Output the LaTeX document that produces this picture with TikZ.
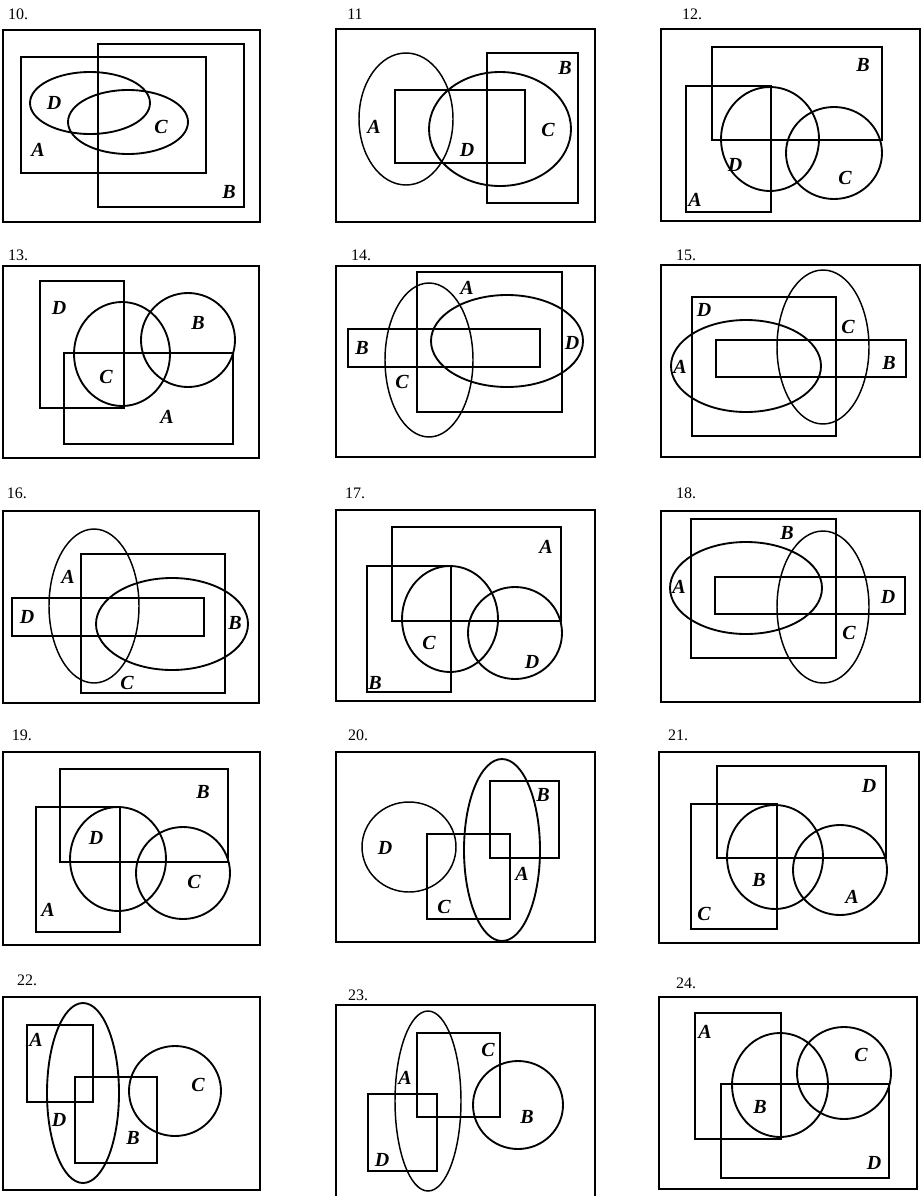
\documentclass[tikz,border=0pt]{standalone}
\usepackage{fontspec}
\setmainfont{Liberation Serif}
\begin{document}
\begin{tikzpicture}[x=0.75pt,y=-0.75pt,
  outer/.style={line width=1.1pt},
  rectst/.style={line width=0.9pt},
  ellst/.style={line width=1.4pt},
  lab/.style={font=\fontsize{15}{15}\selectfont\bfseries\itshape, inner sep=0pt},
  num/.style={font=\fontsize{12}{12}\selectfont, inner sep=0pt}]
\useasboundingbox[fill=white] (0,0) rectangle (923,1196);

% ---------- 10 ----------
\node[num] (n10) at (18,14) {10.};
\draw[outer] (3,30) rectangle (260,222);
\draw[rectst] (21,57) rectangle (206,173);
\draw[rectst] (98,44) rectangle (244,207);
\draw[ellst] (90,103) ellipse [x radius=60, y radius=31];
\draw[ellst] (128,122) ellipse [x radius=60, y radius=32];
\node[lab] (d10) at (54,103) {D};
\node[lab] (c10) at (161,127) {C};
\node[lab] (a10) at (38,150) {A};
\node[lab] (b10) at (229,192) {B};

% ---------- 11 ----------
\node[num] (n11) at (355,14) {11};
\draw[outer] (336,29) rectangle (595,222);
\draw[rectst] (395,90) rectangle (525,163);
\draw[rectst] (487,53) rectangle (578,203);
\draw[ellst, line width=1.1pt] (406,119) ellipse [x radius=47, y radius=66];
\draw[ellst] (500,129) ellipse [x radius=71, y radius=57];
\node[lab] (b11) at (565,68) {B};
\node[lab] (a11) at (374,127) {A};
\node[lab] (c11) at (548,130) {C};
\node[lab] (d11) at (467,150) {D};

% ---------- 12 ----------
\node[num] (n12) at (692,14) {12.};
\draw[outer] (661,29) rectangle (920,221);
\draw[outer] (712,47) rectangle (882,140);
\draw[rectst] (686,86) rectangle (771,212);
\draw[ellst] (770,139) ellipse [x radius=49, y radius=52];
\draw[ellst] (834,153) ellipse [x radius=48, y radius=46];
\node[lab] (b12) at (863,65) {B};
\node[lab] (d12) at (735,165) {D};
\node[lab] (c12) at (845,178) {C};
\node[lab] (a12) at (695,200) {A};

% ---------- 13 ----------
\node[num] (n13) at (18,255) {13.};
\draw[outer] (3,266) rectangle (259,458);
\draw[rectst] (40,281) rectangle (124,408);
\draw[outer] (64,353) rectangle (233,444);
\draw[ellst] (122,354) ellipse [x radius=48, y radius=52];
\draw[ellst] (188,340) ellipse [x radius=47, y radius=47];
\node[lab] (d13) at (59,308) {D};
\node[lab] (b13) at (198,323) {B};
\node[lab] (c13) at (106,377) {C};
\node[lab] (a13) at (167,417) {A};

% ---------- 14 ----------
\node[num] (n14) at (361,255) {14.};
\draw[outer] (336,266) rectangle (595,457);
\draw[outer] (417,272) rectangle (562,412);
\draw[outer] (348,329) rectangle (540,367);
\draw[ellst, line width=1.1pt] (429,360) ellipse [x radius=44, y radius=77];
\draw[ellst] (507,341) ellipse [x radius=76, y radius=46];
\node[lab] (a14) at (467,288) {A};
\node[lab] (d14) at (572,343) {D};
\node[lab] (b14) at (362,348) {B};
\node[lab] (c14) at (402,382) {C};

% ---------- 15 ----------
\node[num] (n15) at (686,255) {15.};
\draw[outer] (661,265) rectangle (920,457);
\draw[outer] (692,297) rectangle (836,436);
\draw[rectst] (716,340) rectangle (906,377);
\draw[ellst] (746,366) ellipse [x radius=75, y radius=46];
\draw[ellst, line width=1.1pt] (823,347) ellipse [x radius=46, y radius=77];
\node[lab] (d15) at (704,310) {D};
\node[lab] (c15) at (848,327) {C};
\node[lab] (a15) at (680,367) {A};
\node[lab] (b15) at (889,363) {B};

% ---------- 16 ----------
\node[num] (n16) at (17,493) {16.};
\draw[outer] (3,511) rectangle (259,703);
\draw[outer] (81,554) rectangle (225,693);
\draw[outer] (12,598) rectangle (204,636);
\draw[ellst, line width=1.1pt] (94,606) ellipse [x radius=45, y radius=77];
\draw[ellst] (172,624) ellipse [x radius=76, y radius=46];
\node[lab] (a16) at (68,577) {A};
\node[lab] (d16) at (27,617) {D};
\node[lab] (b16) at (235,623) {B};
\node[lab] (c16) at (127,683) {C};

% ---------- 17 ----------
\node[num] (n17) at (355,493) {17.};
\draw[outer] (336,510) rectangle (595,701);
\draw[outer] (392,527) rectangle (561,621);
\draw[rectst] (367,566) rectangle (451,692);
\draw[ellst] (450,619) ellipse [x radius=48, y radius=53];
\draw[ellst] (515,633) ellipse [x radius=47, y radius=46];
\node[lab] (a17) at (546,547) {A};
\node[lab] (c17) at (429,643) {C};
\node[lab] (d17) at (532,662) {D};
\node[lab] (b17) at (375,683) {B};

% ---------- 18 ----------
\node[num] (n18) at (686,493) {18.};
\draw[outer] (661,511) rectangle (920,702);
\draw[outer] (691,519) rectangle (836,658);
\draw[outer] (715,577) rectangle (905,614);
\draw[ellst] (746,588) ellipse [x radius=76, y radius=46];
\draw[ellst, line width=1.1pt] (823,607) ellipse [x radius=46, y radius=76];
\node[lab] (b18) at (787,533) {B};
\node[lab] (a18) at (679,587) {A};
\node[lab] (d18) at (888,597) {D};
\node[lab] (c18) at (849,633) {C};

% ---------- 19 ----------
\node[num] (n19) at (22,735) {19.};
\draw[outer] (3,752) rectangle (260,945);
\draw[rectst] (60,769) rectangle (228,862);
\draw[rectst] (36,807) rectangle (120,932);
\draw[ellst] (118,859) ellipse [x radius=48, y radius=52];
\draw[ellst] (183,873) ellipse [x radius=47, y radius=46];
\node[lab] (b19) at (203,792) {B};
\node[lab] (d19) at (96,838) {D};
\node[lab] (c19) at (194,882) {C};
\node[lab] (a19) at (48,910) {A};

% ---------- 20 ----------
\node[num] (n20) at (358,735) {20.};
\draw[outer] (336,752) rectangle (595,942);
\draw[ellst, line width=1.1pt] (409,847) ellipse [x radius=47, y radius=45];
\draw[outer] (427,834) rectangle (510,919);
\draw[outer] (490,781) rectangle (559,858);
\draw[ellst] (502,850) ellipse [x radius=38, y radius=91];
\node[lab] (b20) at (543,795) {B};
\node[lab] (d20) at (385,848) {D};
\node[lab] (a20) at (522,874) {A};
\node[lab] (c20) at (444,907) {C};

% ---------- 21 ----------
\node[num] (n21) at (678,735) {21.};
\draw[outer] (659,752) rectangle (919,943);
\draw[rectst] (717,766) rectangle (886,858);
\draw[rectst] (691,804) rectangle (777,929);
\draw[ellst] (775,857) ellipse [x radius=48, y radius=52];
\draw[ellst] (840,870) ellipse [x radius=47, y radius=45];
\node[lab] (d21) at (869,786) {D};
\node[lab] (b21) at (759,880) {B};
\node[lab] (a21) at (852,897) {A};
\node[lab] (c21) at (704,914) {C};

% ---------- 22 ----------
\node[num] (n22) at (27,980) {22.};
\draw[outer] (3,997) rectangle (260,1190);
\draw[outer] (27,1025) rectangle (93,1102);
\draw[outer] (75,1077) rectangle (157,1163);
\draw[ellst] (83,1093) ellipse [x radius=36, y radius=90];
\draw[ellst] (175,1091) ellipse [x radius=46, y radius=45];
\node[lab] (a22) at (36,1040) {A};
\node[lab] (c22) at (198,1085) {C};
\node[lab] (d22) at (59,1120) {D};
\node[lab] (b22) at (133,1138) {B};

% ---------- 23 ----------
\node[num] (n23) at (358,995) {23.};
\draw[outer] (336,1196) -- (336,1005) -- (595,1005) -- (595,1196);
\draw[ellst, line width=1.1pt] (428,1101) ellipse [x radius=33, y radius=90];
\draw[outer] (417,1033) rectangle (500,1117);
\draw[outer] (368,1094) rectangle (437,1171);
\draw[ellst] (518,1105) ellipse [x radius=45, y radius=44];
\node[lab] (c23) at (488,1050) {C};
\node[lab] (a23) at (405,1078) {A};
\node[lab] (b23) at (527,1117) {B};
\node[lab] (d23) at (382,1160) {D};

% ---------- 24 ----------
\node[num] (n24) at (686,983) {24.};
\draw[outer] (659,997) rectangle (917,1189);
\draw[outer] (695,1013) rectangle (781,1139);
\draw[rectst] (721,1084) rectangle (889,1178);
\draw[ellst] (780,1085) ellipse [x radius=48, y radius=52];
\draw[ellst] (844,1073) ellipse [x radius=47, y radius=46];
\node[lab] (a24) at (705,1032) {A};
\node[lab] (c24) at (861,1055) {C};
\node[lab] (b24) at (760,1107) {B};
\node[lab] (d24) at (874,1163) {D};
\end{tikzpicture}
\end{document}
